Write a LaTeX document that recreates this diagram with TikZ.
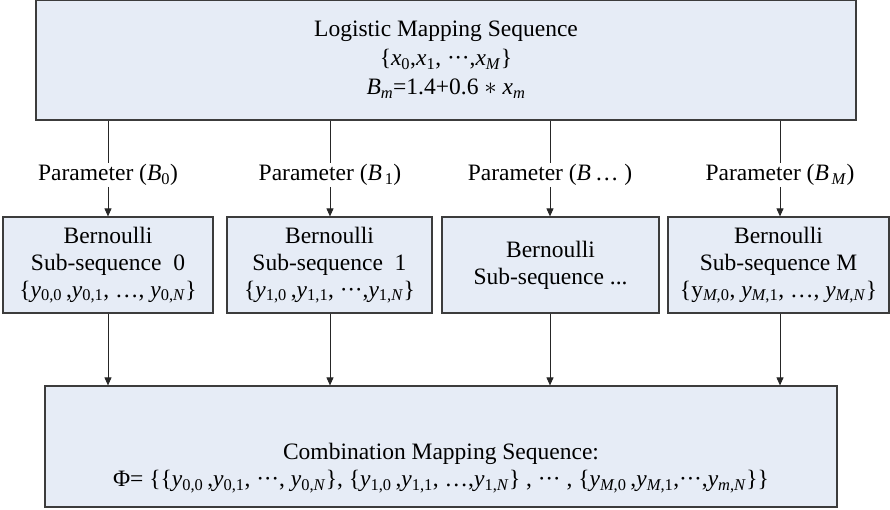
\documentclass[tikz,border=0pt]{standalone}
\usepackage{fontspec}
\setmainfont{Liberation Serif}
\usetikzlibrary{arrows.meta}
\definecolor{cor_fundo}{RGB}{230,236,246}
\definecolor{cor_borda}{RGB}{60,60,60}
\newcommand{\vsub}[2]{\textit{#1}\textsubscript{#2}}
\newcommand{\cdt}{·\kern-0.4pt·\kern-0.4pt·}

\begin{document}
\begin{tikzpicture}[x=1pt,y=-1pt,font=\fontsize{23.5}{27}\selectfont]
        \tikzset{
            caixa/.style={
                draw=cor_borda,
                fill=#1,
                line width=1.2pt,
                align=center,
                inner sep=0pt
            },
            param/.style={inner sep=1pt},
            fio/.style={line width=0.9pt, black!85},
            seta/.style={fio, -{Triangle[length=8pt,width=7pt]}}
        }
        \useasboundingbox (0,0) rectangle (890,509);

        %caixa de cima
        \node[caixa=cor_fundo, minimum width=820pt, minimum height=120pt,
              font=\fontsize{23.5}{29}\selectfont] (logi) at (446,60)
            {Logistic Mapping Sequence\\
             \{\vsub{x}{0},\vsub{x}{1}, \cdt,\vsub{x}{\textit{M}}\}\\
             \vsub{B}{\textit{m}}=1.4+0.6 $\ast$ \vsub{x}{\textit{m}}};

        %parametros
        \node[param] (par0) at (108,175) {Parameter (\vsub{B}{0})};
        \node[param] (par1) at (330,175) {Parameter (\vsub{B}{\,1})};
        \node[param] (par2) at (550,175) {Parameter (\textit{B}\,… )};
        \node[param] (par3) at (780,175) {Parameter (\vsub{B}{\,\textit{M}})};

        %bernoulli
        \node[caixa=cor_fundo, minimum width=210pt, minimum height=96pt] (bern0) at (108,265)
            {Bernoulli\\ Sub-sequence~~0\\
             \{\vsub{y}{0,0}\,,\vsub{y}{0,1}, …, \vsub{y}{0,\textit{N}}\}};
        \node[caixa=cor_fundo, minimum width=205pt, minimum height=96pt] (bern1) at (329.5,265)
            {Bernoulli\\ Sub-sequence~~1\\
             \{\vsub{y}{1,0}\,,\vsub{y}{1,1}, \cdt,\vsub{y}{1,\textit{N}}\}};
        \node[caixa=cor_fundo, minimum width=217pt, minimum height=96pt] (bern2) at (550.5,265)
            {Bernoulli\\ Sub-sequence ...};
        \node[caixa=cor_fundo, minimum width=221pt, minimum height=96pt] (bern3) at (778.5,265)
            {Bernoulli\\ Sub-sequence M\\
             \{y\textsubscript{\textit{M},0}, \vsub{y}{\textit{M},1}, …, \vsub{y}{\textit{M},\textit{N}}\}};

        %caixa de baixo
        \node[caixa=cor_fundo, minimum width=792pt, minimum height=121pt] (comb) at (441,446.5) {};
        \node[align=center] (combtxt) at (441,468)
            {Combination Mapping Sequence:\\
             Φ= \{\{\vsub{y}{0,0}\,,\vsub{y}{0,1}, \cdt, \vsub{y}{0,\textit{N}}\}, \{\vsub{y}{1,0}\,,\vsub{y}{1,1}, …,\vsub{y}{1,\textit{N}}\} , \cdt\ , \{\vsub{y}{\textit{M},0}\,,\vsub{y}{\textit{M},1},\cdt,\vsub{y}{\textit{m},\textit{N}}\}\}};

        \draw[fio] (logi.south -| par0) -- (par0.north);
        \draw[fio] (logi.south -| par1) -- (par1.north);
        \draw[fio] (logi.south -| par2) -- (par2.north);
        \draw[fio] (logi.south -| par3) -- (par3.north);

        \draw[seta] (par0.south) -- (bern0.north -| par0);
        \draw[seta] (par1.south) -- (bern1.north -| par1);
        \draw[seta] (par2.south) -- (bern2.north -| par2);
        \draw[seta] (par3.south) -- (bern3.north -| par3);

        \draw[seta] (bern0.south -| par0) -- (comb.north -| par0);
        \draw[seta] (bern1.south -| par1) -- (comb.north -| par1);
        \draw[seta] (bern2.south -| par2) -- (comb.north -| par2);
        \draw[seta] (bern3.south -| par3) -- (comb.north -| par3);

    \end{tikzpicture}
\end{document}
